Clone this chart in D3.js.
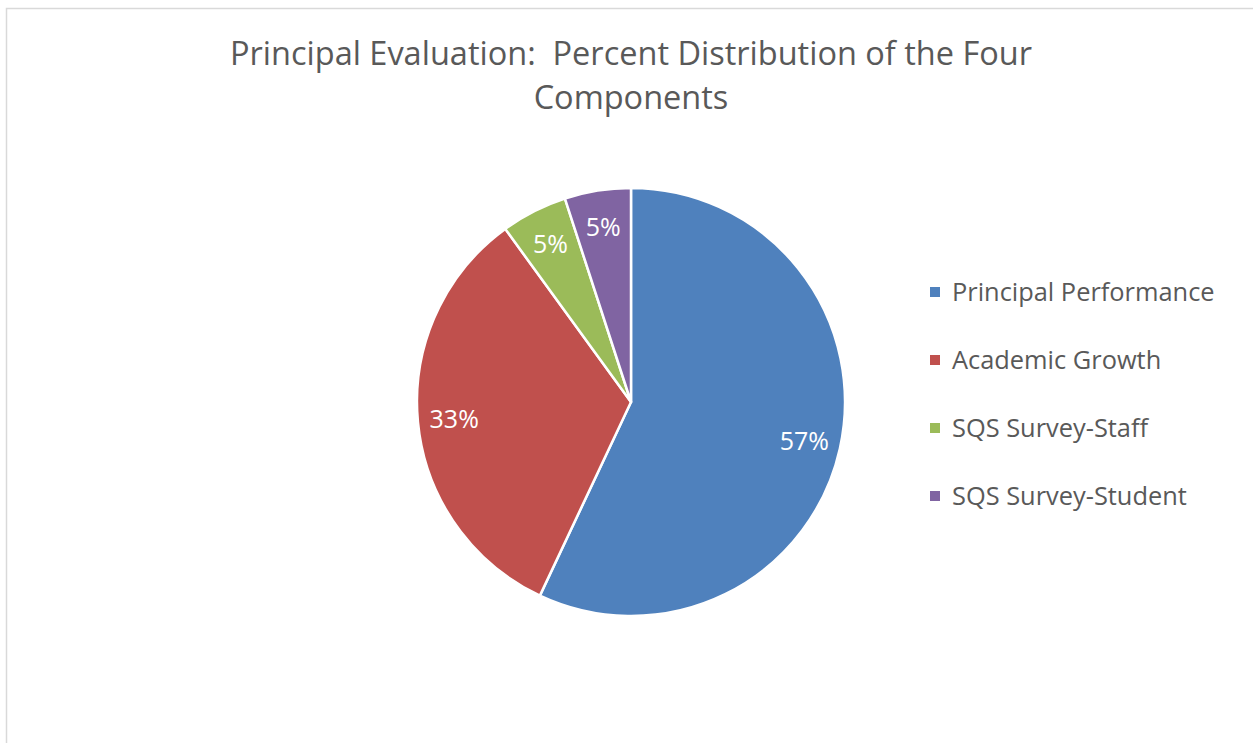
<!DOCTYPE html>
<html>
<head>
<meta charset="utf-8">
<script src="https://cdn.jsdelivr.net/npm/d3@7"></script>
<style>
  body { margin: 0; background: #fff; }
  text { white-space: pre; }
</style>
</head>
<body>
<div class="chart"></div>
<script>
// data
var categories = ["Principal Performance", "Academic Growth", "SQS Survey-Staff", "SQS Survey-Student"];
var values = [57, 33, 5, 5];
var colors = ["#4F81BD", "#C0504D", "#9BBB59", "#8064A2"];
var titleLines = ["Principal Evaluation:  Percent Distribution of the Four", "Components"];

var width = 1253;
var height = 743;
var font = "'Open Sans', 'Noto Sans', sans-serif";

var svg = d3.select(".chart")
  .append("svg")
  .attr("width", width)
  .attr("height", height);

// chart border (only top and left show in the frame)
svg.append("path")
  .attr("d", "M6.5,743 V8.5 H1253")
  .attr("fill", "none")
  .attr("stroke", "#d9d9d9")
  .attr("stroke-width", 1.5);

// title
svg.append("g")
  .selectAll("text")
  .data(titleLines)
  .enter()
  .append("text")
  .attr("x", 631)
  .attr("y", (d, i) => 65 + i * 44)
  .attr("text-anchor", "middle")
  .attr("font-family", font)
  .attr("font-size", 32.5)
  .attr("fill", "#595959")
  .text((d) => d);

// pie
var cx = 631, cy = 402, radius = 214;
var pie = d3.pie().sort(null).value((d) => d);
var arcs = pie(values);
var arc = d3.arc().innerRadius(0).outerRadius(radius);
var labelArc = d3.arc().innerRadius(radius * 0.83).outerRadius(radius * 0.83);

var pieG = svg.append("g").attr("transform", `translate(${cx},${cy})`);

pieG.selectAll("path")
  .data(arcs)
  .enter()
  .append("path")
  .attr("d", arc)
  .attr("fill", (d, i) => colors[i])
  .attr("stroke", "#fff")
  .attr("stroke-width", 2.5)
  .attr("stroke-linejoin", "round");

pieG.selectAll("text")
  .data(arcs)
  .enter()
  .append("text")
  .attr("transform", (d) => `translate(${labelArc.centroid(d)})`)
  .attr("text-anchor", "middle")
  .attr("dy", "0.36em")
  .attr("font-family", font)
  .attr("font-size", 25)
  .attr("fill", "#fff")
  .text((d) => d.data + "%");

// legend
var legend = svg.append("g").attr("transform", "translate(930,292)");
var rows = legend.selectAll("g")
  .data(categories)
  .enter()
  .append("g")
  .attr("transform", (d, i) => `translate(0,${i * 68})`);

rows.append("rect")
  .attr("x", 0)
  .attr("y", -5)
  .attr("width", 10)
  .attr("height", 10)
  .attr("fill", (d, i) => colors[i]);

rows.append("text")
  .attr("x", 22)
  .attr("dy", "0.36em")
  .attr("font-family", font)
  .attr("font-size", 25.4)
  .attr("fill", "#595959")
  .text((d) => d);
</script>
</body>
</html>
